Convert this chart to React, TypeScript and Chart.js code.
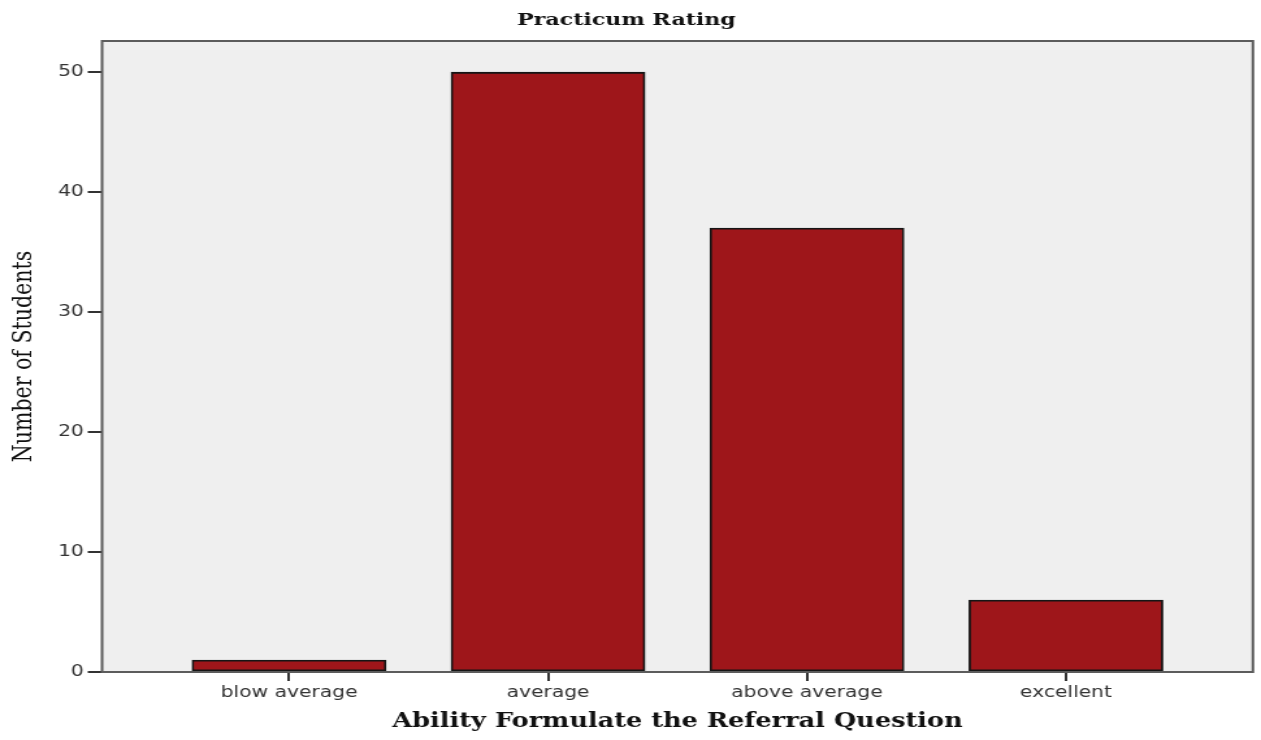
import React, { useEffect, useRef } from 'react';
import { Chart, registerables } from 'chart.js';

Chart.register(...registerables);

// ---- data ----
const categories: string[] = ['blow average', 'average', 'above average', 'excellent'];
const students: number[] = [1, 50, 37, 6];
const yTickValues: number[] = [0, 10, 20, 30, 40, 50];
const chartTitle = 'Practicum Rating';
const xAxisTitle = 'Ability Formulate the Referral Question';
const yAxisTitle = 'Number of Students';

// ---- layout (the original picture is stretched horizontally) ----
const STRETCH = 1.3;
const W = 1261;
const H = 740;
const LW = Math.round(W / STRETCH);

const framePlugin = {
  id: 'frameBg',
  beforeDraw(chart: any) {
    const { ctx, chartArea: a } = chart;
    ctx.save();
    ctx.fillStyle = '#efefef';
    ctx.fillRect(a.left, a.top, a.right - a.left, a.bottom - a.top);
    ctx.restore();
  },
  afterDatasetsDraw(chart: any) {
    const { ctx, chartArea: a } = chart;
    ctx.save();
    ctx.strokeStyle = '#5c5c5c';
    ctx.lineWidth = 2;
    ctx.strokeRect(a.left, a.top, a.right - a.left, a.bottom - a.top);
    ctx.restore();
  },
};

export default function App() {
  const ref = useRef<HTMLCanvasElement | null>(null);

  useEffect(() => {
    if (!ref.current) return;
    const chart = new Chart(ref.current, {
      type: 'bar',
      data: {
        datasets: [
          {
            label: yAxisTitle,
            data: students.map((v, i) => ({ x: i, y: v })),
            backgroundColor: '#9e161a',
            borderColor: '#151515',
            borderWidth: 1.8,
            borderSkipped: false,
            barThickness: 149.2,
          },
        ],
      },
      options: {
        responsive: false,
        animation: false,
        layout: { padding: { left: 0, right: 6.2, top: 0, bottom: 0 } },
        plugins: {
          legend: { display: false },
          tooltip: { enabled: false },
          title: {
            display: true,
            text: chartTitle,
            color: '#111',
            font: { family: 'DejaVu Serif', weight: 'bold', size: 17 },
            padding: { top: 10, bottom: 10.6 },
          },
        },
        scales: {
          x: {
            type: 'linear',
            offset: false,
            min: -0.722,
            max: 3.722,
            afterBuildTicks: (s: any) => {
              s.ticks = categories.map((_, i) => ({ value: i }));
            },
            afterFit: (s: any) => {
              s.height = 68;
            },
            ticks: {
              callback: (v: any) => categories[Math.round(Number(v))] ?? '',
              color: '#333',
              font: { family: 'DejaVu Sans', size: 15.6 },
              padding: 3,
              maxRotation: 0,
              autoSkip: false,
            },
            grid: {
              offset: false,
              drawOnChartArea: false,
              drawTicks: true,
              tickLength: 9,
              color: '#333',
              lineWidth: 2,
            },
            border: { display: false },
            title: {
              display: true,
              text: xAxisTitle,
              color: '#111',
              font: { family: 'DejaVu Serif', weight: 'bold', size: 19.7 },
              padding: { top: 0, bottom: 6 },
            },
          },
          y: {
            type: 'linear',
            min: 0,
            max: 52.6,
            afterBuildTicks: (s: any) => {
              s.ticks = yTickValues.map((v) => ({ value: v }));
            },
            afterFit: (s: any) => {
              s.width = 78.5;
            },
            ticks: {
              color: '#333',
              font: { family: 'DejaVu Sans', size: 15.6 },
              padding: 3,
            },
            grid: {
              drawOnChartArea: false,
              drawTicks: true,
              tickLength: 11,
              color: '#333',
              lineWidth: 2,
            },
            border: { display: false },
            title: {
              display: true,
              text: yAxisTitle,
              color: '#111',
              font: { family: 'DejaVu Serif', size: 20.5 },
              padding: { top: 6.5, bottom: 0 },
            },
          },
        },
      },
      plugins: [framePlugin],
    } as any);
    return () => chart.destroy();
  }, []);

  return (
    <div style={{ position: 'absolute', left: 0, top: 0, width: W, height: H, background: '#fff' }}>
      <canvas
        ref={ref}
        width={LW}
        height={H}
        style={{ width: W + 'px', height: H + 'px', display: 'block' }}
      />
    </div>
  );
}
